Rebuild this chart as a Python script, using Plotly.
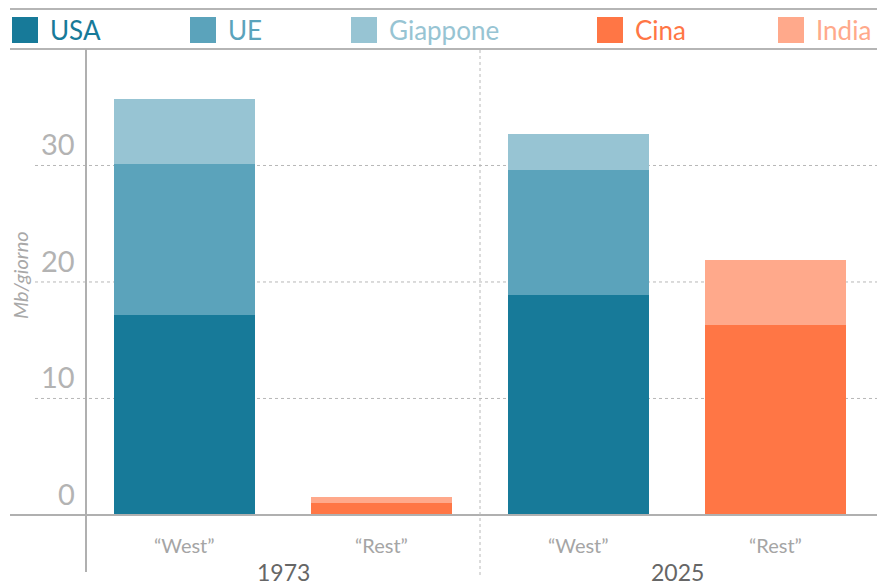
import plotly.graph_objects as go

# categorie (posizioni 0..3) e valori in Mb/giorno
groups = ["“West”", "“Rest”", "“West”", "“Rest”"]
years = ["1973", "2025"]
usa = [17.2, None, 18.9, None]
ue = [12.9, None, 10.7, None]
giappone = [5.6, None, 3.1, None]
cina = [None, 1.0, None, 16.3]
india = [None, 0.5, None, 5.6]
y_ticks = [0, 10, 20, 30]

series = [
    ("USA", usa, "#177a99"),
    ("UE", ue, "#5ba3bb"),
    ("Giappone", giappone, "#97c4d3"),
    ("Cina", cina, "#ff7645"),
    ("India", india, "#ffa98b"),
]

W, H = 877, 588
ML, MR, MT, MB = 86, 3, 49, 5
PW, PH = W - ML - MR, H - MT - MB


def px(x):
    # pixel orizzontale -> coordinata paper
    return (x - ML) / PW


def py(y):
    # pixel verticale -> coordinata paper
    return (H - MB - y) / PH


FONT = "Lato"
fig = go.Figure()

for name, vals, col in series:
    fig.add_trace(go.Bar(
        x=list(range(len(groups))),
        y=vals,
        name=name,
        marker=dict(color=col, line=dict(width=0)),
        width=0.72,
        showlegend=False,
    ))

shapes = []
# linee orizzontali sopra e sotto la legenda
for yy in (9, 49):
    shapes.append(dict(type="line", xref="paper", yref="paper",
                       x0=px(10), x1=px(W), y0=py(yy), y1=py(yy),
                       line=dict(color="#b5b5b5", width=2)))
# griglia tratteggiata
for t in y_ticks[1:]:
    shapes.append(dict(type="line", xref="paper", yref="y",
                       x0=px(35), x1=px(W), y0=t, y1=t,
                       line=dict(color="#b8b8b8", width=1, dash="dot"), layer="below"))
# asse zero
shapes.append(dict(type="line", xref="paper", yref="y",
                   x0=px(10), x1=px(W), y0=0, y1=0,
                   line=dict(color="#b0b0b0", width=2)))
# asse y
shapes.append(dict(type="line", xref="paper", yref="paper",
                   x0=0, x1=0, y0=py(572), y1=py(49),
                   line=dict(color="#b0b0b0", width=2)))
# separatore tra gli anni
shapes.append(dict(type="line", xref="x", yref="paper",
                   x0=1.5, x1=1.5, y0=py(575), y1=py(49),
                   line=dict(color="#b8b8b8", width=1, dash="dot")))

annotations = []
# legenda personalizzata
leg_x = [12, 190, 351, 597, 778]
for (name, vals, col), lx in zip(series, leg_x):
    shapes.append(dict(type="rect", xref="paper", yref="paper",
                       x0=px(lx), x1=px(lx + 26), y0=py(43), y1=py(17),
                       fillcolor=col, line=dict(width=0)))
    annotations.append(dict(x=px(lx + 36), y=py(30), xref="paper", yref="paper",
                            text=name, showarrow=False, xanchor="left", yanchor="middle",
                            font=dict(family=FONT, size=26, color=col)))

# etichette asse y
for t in y_ticks:
    annotations.append(dict(x=0, y=t, xref="paper", yref="y", text=str(t),
                            showarrow=False, xanchor="right", yanchor="bottom",
                            xshift=-9, yshift=2,
                            font=dict(family=FONT, size=29, color="#b3b3b3")))
annotations.append(dict(x=px(20), y=py(275), xref="paper", yref="paper",
                        text="<i>Mb/giorno</i>", textangle=-90, showarrow=False,
                        xanchor="center", yanchor="middle",
                        font=dict(family=FONT, size=20, color="#a8a8a8")))

# etichette categorie e anni
for i, g in enumerate(groups):
    annotations.append(dict(x=i, y=py(545), xref="x", yref="paper", text=g,
                            showarrow=False, yanchor="middle",
                            font=dict(family=FONT, size=20, color="#a5a5a5")))
for j, yr in enumerate(years):
    annotations.append(dict(x=2 * j + 0.5, y=py(572), xref="x", yref="paper", text=yr,
                            showarrow=False, yanchor="middle",
                            font=dict(family=FONT, size=23, color="#666666")))

fig.update_layout(
    width=W, height=H,
    margin=dict(l=ML, r=MR, t=MT, b=MB),
    barmode="stack",
    bargap=0,
    plot_bgcolor="white",
    paper_bgcolor="white",
    xaxis=dict(range=[-0.5, 3.5], showticklabels=False, showgrid=False,
               zeroline=False, showline=False, fixedrange=True),
    yaxis=dict(range=[-5.84, 40], showticklabels=False, showgrid=False,
               zeroline=False, showline=False, fixedrange=True),
    shapes=shapes,
    annotations=annotations,
    font=dict(family=FONT),
)

# niente margine della pagina, cosi' la figura riempie la finestra
fig.write_html("out.html", config={"displayModeBar": False},
               post_script="document.body.style.margin='0px';document.body.style.overflow='hidden';")
